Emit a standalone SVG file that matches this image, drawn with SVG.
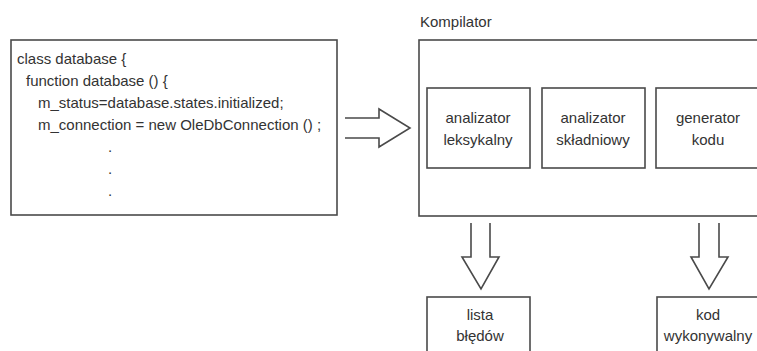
<svg xmlns="http://www.w3.org/2000/svg" width="757" height="351" viewBox="0 0 757 351">
<style>
.box{fill:#fff;stroke:#4a4a4a;stroke-width:1.6}
.arr{fill:none;stroke:#4a4a4a;stroke-width:1.6;stroke-linejoin:miter}
text{font-family:"Liberation Sans",Arial,sans-serif;font-size:15px;fill:#333}
.c{text-anchor:middle}
</style>
<rect width="757" height="351" fill="#fff"/>
<g id="code">
<rect class="box" x="11" y="40" width="326" height="175"/>
<text x="17" y="64">class database {</text>
<text x="26" y="86">function database () {</text>
<text x="38" y="108">m_status=database.states.initialized;</text>
<text x="38" y="130">m_connection = new OleDbConnection () ;</text>
<text x="108" y="152">.</text>
<text x="108" y="174">.</text>
<text x="108" y="196">.</text>
</g>
<g id="kompilator">
<text x="420" y="27">Kompilator</text>
<rect class="box" x="419" y="40" width="350" height="176"/>
</g>
<g id="lex">
<rect class="box" x="427" y="88" width="103" height="80"/>
<text class="c" x="478" y="123">analizator</text>
<text class="c" x="478" y="145">leksykalny</text>
</g>
<g id="syn">
<rect class="box" x="542" y="88" width="103" height="80"/>
<text class="c" x="593" y="123">analizator</text>
<text class="c" x="593" y="145">składniowy</text>
</g>
<g id="gen">
<rect class="box" x="656" y="88" width="104" height="80"/>
<text class="c" x="708" y="123">generator</text>
<text class="c" x="708" y="145">kodu</text>
</g>
<g id="errors">
<rect class="box" x="427" y="297" width="103" height="60"/>
<text class="c" x="480" y="320">lista</text>
<text class="c" x="480" y="341">błędów</text>
</g>
<g id="exe">
<rect class="box" x="657" y="297" width="104" height="60"/>
<text class="c" x="708" y="320">kod</text>
<text class="c" x="708" y="341">wykonywalny</text>
</g>
<g id="connectors">
<path class="arr" d="M345,118 H379 V109 L410,128 L379,147 V138 H345"/>
<path class="arr" d="M471,223 V257 H462 L481,289 L499,257 H490 V223"/>
<path class="arr" d="M699,223 V257 H691 L709,289 L728,257 H719 V223"/>
</g>
</svg>
